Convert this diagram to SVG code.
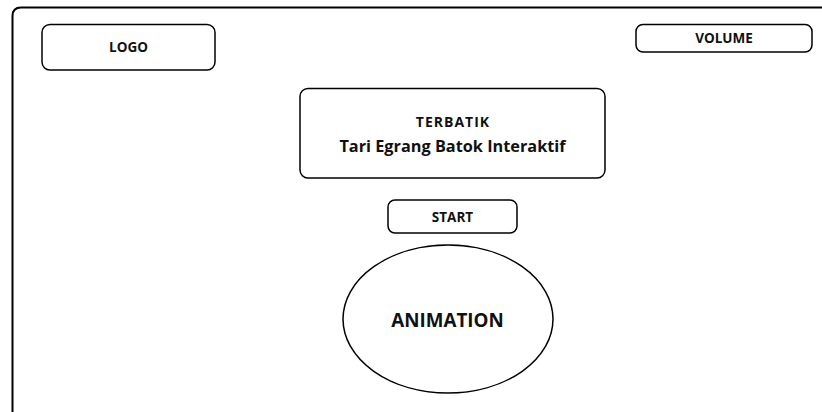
<svg xmlns="http://www.w3.org/2000/svg" width="822" height="412" viewBox="0 0 822 412">
<style>
.box{fill:#fff;stroke:#000;stroke-width:1.5}
.t{font-family:"Open Sans","Noto Sans","Liberation Sans",sans-serif;font-weight:700;fill:#111;text-anchor:middle}
.s{font-size:13.5px}
</style>
<rect width="822" height="412" fill="#fff"/>
<g id="frame"><path d="M12.5 413 V16 Q12.5 7.5 21 7.5 H830" fill="none" stroke="#000" stroke-width="2"/></g>
<g id="logo"><rect class="box" x="42" y="24.5" width="173" height="45.5" rx="8"/><text class="t s" x="128.5" y="52">LOGO</text></g>
<g id="volume"><rect class="box" x="636" y="24.5" width="176" height="27.5" rx="7"/><text class="t s" x="724" y="43">VOLUME</text></g>
<g id="title"><rect class="box" x="300" y="88.5" width="305" height="89.5" rx="8"/><text class="t" x="453" y="127" font-size="14" letter-spacing="1">TERBATIK</text><text class="t" x="452.5" y="152" font-size="16.3">Tari Egrang Batok Interaktif</text></g>
<g id="start"><rect class="box" x="388" y="200" width="129" height="33" rx="7"/><text class="t s" x="452.5" y="222">START</text></g>
<g id="animation"><ellipse class="box" cx="448" cy="319" rx="105" ry="74"/><text class="t" x="447.5" y="327" font-size="18.8">ANIMATION</text></g>
<g id="connectors"></g>
</svg>
